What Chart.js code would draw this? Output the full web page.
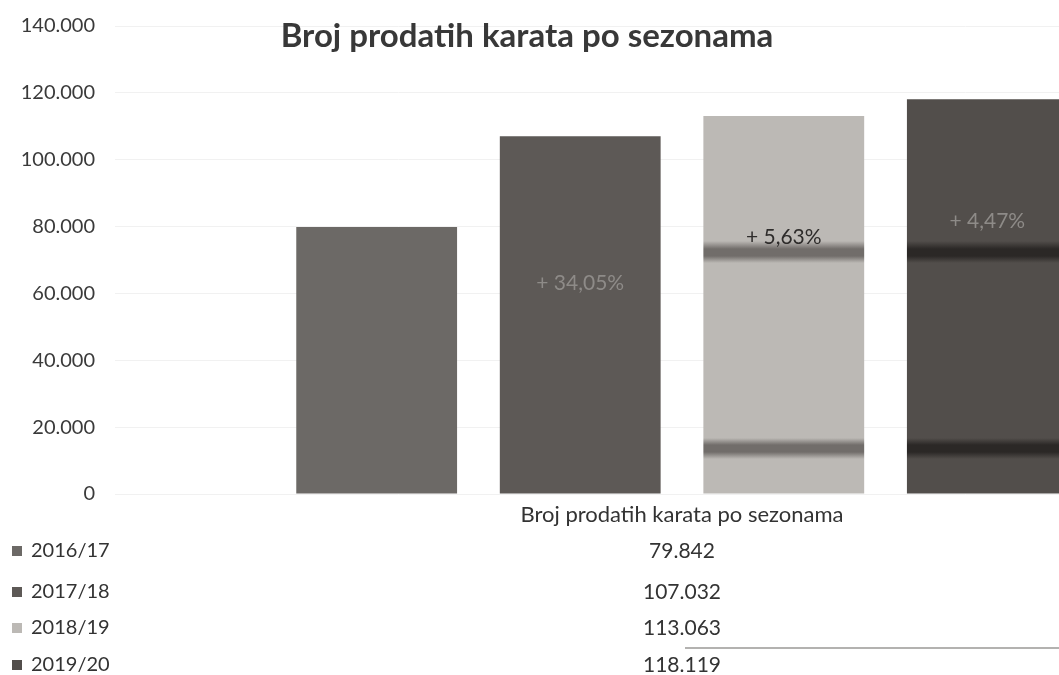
<!DOCTYPE html>
<html>
<head>
<meta charset="utf-8">
<script src="https://cdn.jsdelivr.net/npm/chart.js@4/dist/chart.umd.min.js"></script>
<style>
  html, body { margin: 0; padding: 0; background: #fff; }
  #wrap { width: 1059px; height: 675px; overflow: hidden; position: relative; }
  canvas { position: absolute; left: 0; top: 0; }
</style>
</head>
<body>
<div id="wrap"><canvas id="chart" width="1260" height="675"></canvas></div>
<script>
const title = 'Broj prodatih karata po sezonama';
const categories = ['Broj prodatih karata po sezonama'];
const seasons = ['2016/17', '2017/18', '2018/19', '2019/20'];
const tickets = [79842, 107032, 113063, 118119];
const growthLabels = ['', '+ 34,05%', '+ 5,63%', '+ 4,47%'];
const barColors = ['#6c6966', '#5d5956', '#bcb9b5', '#524e4b'];
const bandColors = [null, null, '#716d6a', '#2b2826'];

const fmt = v => String(v).replace(/\B(?=(\d{3})+(?!\d))/g, '.');
const FONT = 'Lato, "Liberation Sans", sans-serif';

// scanner streaks across the two right bars
function barFill(i) {
  return ctx => {
    if (!bandColors[i]) return barColors[i];
    const g = ctx.chart.ctx.createLinearGradient(0, 0, 0, 675);
    const base = barColors[i], band = bandColors[i];
    const stops = [[0, base], [241, base], [249, band], [256, band], [263, base],
                   [438, base], [445, band], [452, band], [459, base], [675, base]];
    stops.forEach(([p, c]) => g.addColorStop(p / 675, c));
    return g;
  };
}

const tablePlugin = {
  id: 'tablePlugin',
  afterDatasetsDraw(chart) {
    const { ctx, scales: { y } } = chart;
    ctx.save();
    const fracs = [0, 0.59, 0.68, 0.69];
    const labelColors = ['#000', '#8e8b88', '#2e2c2b', '#8e8b88'];
    chart.data.datasets.forEach((ds, i) => {
      if (!growthLabels[i]) return;
      const bar = chart.getDatasetMeta(i).data[0];
      ctx.font = '21px ' + FONT;
      ctx.fillStyle = labelColors[i];
      ctx.textAlign = 'center';
      ctx.textBaseline = 'middle';
      ctx.fillText(growthLabels[i], bar.x, y.getPixelForValue(ds.data[0] * fracs[i]));
    });
    ctx.restore();
  },
  afterDraw(chart) {
    const { ctx, scales: { x } } = chart;
    ctx.save();
    ctx.font = 'bold 33px ' + FONT;
    ctx.fillStyle = '#383838';
    ctx.textAlign = 'center';
    ctx.textBaseline = 'alphabetic';
    ctx.fillText(title, 527, 47);

    ctx.textBaseline = 'middle';
    const cx = x.getPixelForValue(0);
    const rows = [551, 592, 628, 665];
    seasons.forEach((s, i) => {
      ctx.fillStyle = barColors[i];
      ctx.fillRect(12, rows[i] - 5, 10, 10);
      ctx.font = '20px ' + FONT;
      ctx.fillStyle = '#333';
      ctx.textAlign = 'left';
      ctx.fillText(s, 31, rows[i]);
      ctx.font = '21px ' + FONT;
      ctx.textAlign = 'center';
      ctx.fillText(fmt(tickets[i]), cx, rows[i]);
    });
    ctx.strokeStyle = '#9a9896';
    ctx.lineWidth = 1.5;
    ctx.beginPath();
    ctx.moveTo(685, 648);
    ctx.lineTo(1059, 648);
    ctx.stroke();
    ctx.restore();
  }
};

new Chart(document.getElementById('chart'), {
  type: 'bar',
  data: {
    labels: categories,
    datasets: seasons.map((s, i) => ({
      label: s,
      data: [tickets[i]],
      backgroundColor: barFill(i),
      categoryPercentage: 0.718,
      barPercentage: 0.79
    }))
  },
  options: {
    responsive: false,
    animation: false,
    layout: { padding: { top: 26, bottom: 141, right: 11, left: 0 } },
    plugins: {
      legend: { display: false },
      title: { display: false },
      tooltip: { enabled: false }
    },
    scales: {
      x: {
        grid: { display: false, drawTicks: false },
        border: { display: false },
        ticks: { padding: 8, color: '#333', font: { family: FONT, size: 22 } },
        afterFit: s => { s.height = 40; }
      },
      y: {
        min: 0,
        max: 140000,
        ticks: {
          stepSize: 20000,
          padding: 20,
          color: '#3a3a3a',
          font: { family: FONT, size: 20 },
          callback: v => fmt(v)
        },
        grid: { color: '#f1f1f1', drawTicks: false },
        border: { display: false },
        afterFit: s => { s.width = 115; s.paddingTop = 0; s.paddingBottom = 0; }
      }
    }
  },
  plugins: [tablePlugin]
});
</script>
</body>
</html>
